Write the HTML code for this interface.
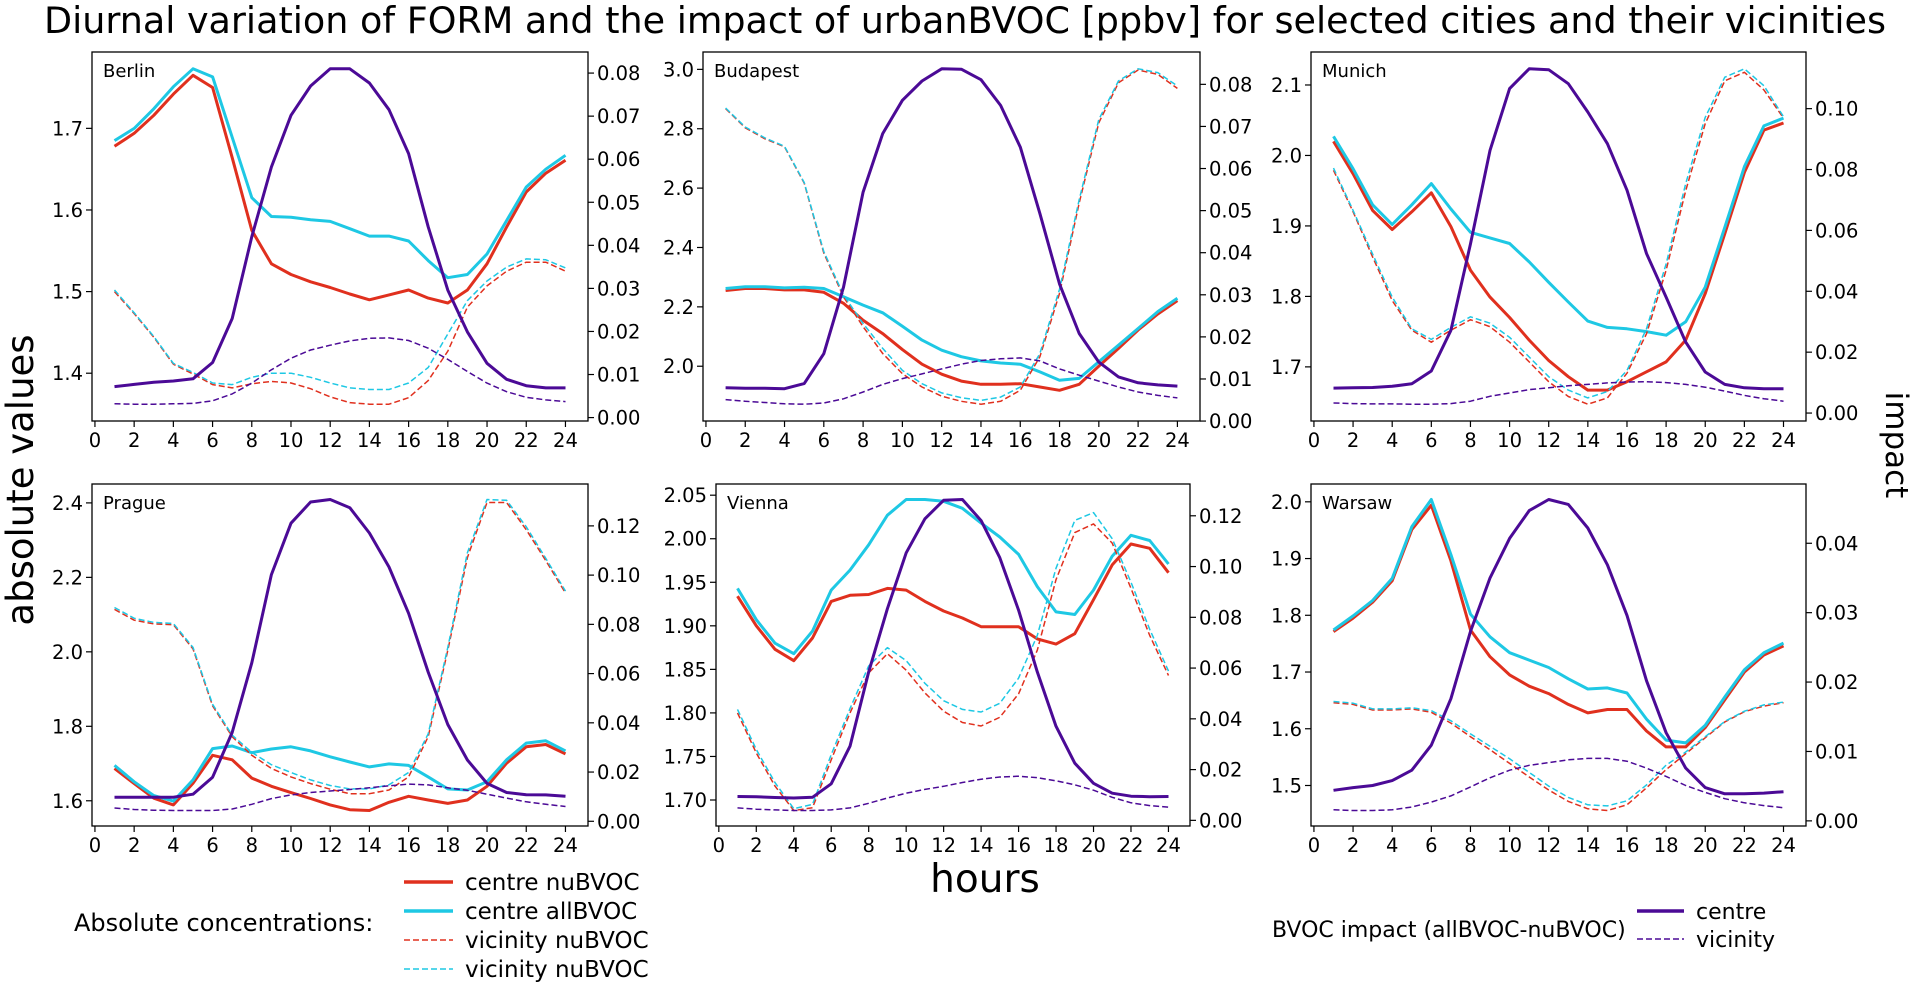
<!DOCTYPE html>
<html><head><meta charset="utf-8"><style>
html,body{margin:0;padding:0;background:#fff}
svg{display:block;font-family:"DejaVu Sans","Liberation Sans",sans-serif}
</style></head><body>
<svg id="chart" width="1930" height="984" viewBox="0 0 1930 984" xmlns="http://www.w3.org/2000/svg">
<text x="965" y="33" font-size="36.5" text-anchor="middle">Diurnal variation of FORM and the impact of urbanBVOC [ppbv] for selected cities and their vicinities</text>
<text transform="translate(33,480) rotate(-90)" font-size="37" text-anchor="middle">absolute values</text>
<text transform="translate(1886,445) rotate(90)" font-size="31" text-anchor="middle">impact</text>
<text x="985" y="892" font-size="39" text-anchor="middle">hours</text>
<g font-size="23">
<text x="74" y="931" font-size="24">Absolute concentrations:</text>
<line x1="404" y1="882" x2="453" y2="882" stroke="#e0301e" stroke-width="3.5"/>
<text x="465" y="890">centre nuBVOC</text>
<line x1="404" y1="911" x2="453" y2="911" stroke="#1ec8e4" stroke-width="3.5"/>
<text x="465" y="919">centre allBVOC</text>
<line x1="404" y1="940" x2="453" y2="940" stroke="#e0301e" stroke-width="1.6" stroke-dasharray="6,3"/>
<text x="465" y="948">vicinity nuBVOC</text>
<line x1="404" y1="969" x2="453" y2="969" stroke="#1ec8e4" stroke-width="1.6" stroke-dasharray="6,3"/>
<text x="465" y="977">vicinity nuBVOC</text>
</g>
<g font-size="22">
<text x="1272" y="937">BVOC impact (allBVOC-nuBVOC)</text>
<line x1="1637" y1="911" x2="1684" y2="911" stroke="#4b0a96" stroke-width="3.5"/>
<text x="1696" y="919">centre</text>
<line x1="1637" y1="939" x2="1684" y2="939" stroke="#4b0a96" stroke-width="1.6" stroke-dasharray="6,3"/>
<text x="1696" y="947">vicinity</text>
</g>
</svg>
<script>
const hours=[1,2,3,4,5,6,7,8,9,10,11,12,13,14,15,16,17,18,19,20,21,22,23,24];
const xTickLabels=["0","2","4","6","8","10","12","14","16","18","20","22","24"];

const berlinCentreNu=[1.678,1.694,1.716,1.742,1.765,1.750,1.664,1.575,1.534,1.521,1.512,1.505,1.497,1.490,1.496,1.502,1.492,1.486,1.502,1.534,1.579,1.622,1.645,1.661];
const berlinCentreAll=[1.685,1.700,1.724,1.751,1.773,1.763,1.689,1.615,1.592,1.591,1.588,1.586,1.577,1.568,1.568,1.562,1.538,1.517,1.521,1.546,1.587,1.628,1.650,1.667];
const berlinVicNu=[1.500,1.473,1.444,1.411,1.399,1.386,1.382,1.387,1.390,1.388,1.381,1.371,1.364,1.362,1.362,1.370,1.391,1.427,1.481,1.507,1.525,1.536,1.536,1.525];
const berlinVicAll=[1.502,1.474,1.445,1.412,1.401,1.388,1.386,1.395,1.400,1.400,1.395,1.388,1.382,1.380,1.380,1.388,1.407,1.448,1.489,1.513,1.530,1.540,1.539,1.529];
const berlinImpCentre=[.0072,.0077,.0082,.0085,.0090,.0128,.0230,.0420,.0582,.0702,.0770,.0810,.0810,.0777,.0715,.0613,.0443,.0296,.0199,.0126,.0089,.0074,.0069,.0069];
const berlinImpVic=[.0032,.0031,.0031,.0032,.0033,.0039,.0055,.0080,.0111,.0138,.0157,.0168,.0178,.0184,.0185,.0179,.0161,.0135,.0107,.0080,.0060,.0047,.0041,.0037];
const berlinLeftTicks=["1.4","1.5","1.6","1.7"];
const berlinRightTicks=["0.00","0.01","0.02","0.03","0.04","0.05","0.06","0.07","0.08"];

const budapestCentreNu=[2.255,2.262,2.262,2.257,2.257,2.249,2.212,2.155,2.110,2.056,2.007,1.973,1.950,1.939,1.939,1.941,1.930,1.919,1.939,2.000,2.060,2.122,2.176,2.221];
const budapestCentreAll=[2.262,2.268,2.268,2.264,2.266,2.262,2.234,2.206,2.180,2.135,2.088,2.054,2.032,2.018,2.011,2.007,1.981,1.953,1.959,2.015,2.071,2.127,2.184,2.229];
const budapestVicNu=[2.868,2.803,2.766,2.739,2.617,2.381,2.234,2.133,2.043,1.975,1.930,1.899,1.882,1.872,1.882,1.919,2.032,2.245,2.550,2.820,2.955,2.998,2.983,2.936];
const budapestVicAll=[2.870,2.806,2.769,2.741,2.619,2.386,2.240,2.144,2.060,1.986,1.941,1.910,1.894,1.885,1.896,1.930,2.043,2.259,2.561,2.831,2.961,3.002,2.989,2.944];
const budapestImpCentre=[.0079,.0078,.0078,.0077,.0089,.0160,.0318,.0544,.0683,.0762,.0808,.0837,.0836,.0811,.0750,.0651,.0493,.0326,.0208,.0140,.0105,.0091,.0086,.0083];
const budapestImpVic=[.0051,.0047,.0044,.0041,.0040,.0043,.0053,.0069,.0087,.0101,.0112,.0124,.0135,.0144,.0148,.0150,.0143,.0124,.0109,.0095,.0081,.0069,.0061,.0055];
const budapestLeftTicks=["2.0","2.2","2.4","2.6","2.8","3.0"];
const budapestRightTicks=["0.00","0.01","0.02","0.03","0.04","0.05","0.06","0.07","0.08"];

const munichCentreNu=[2.020,1.974,1.922,1.895,1.920,1.947,1.899,1.837,1.799,1.770,1.738,1.709,1.686,1.667,1.667,1.679,1.693,1.707,1.738,1.804,1.889,1.976,2.036,2.046];
const munichCentreAll=[2.027,1.981,1.930,1.902,1.930,1.960,1.924,1.891,1.883,1.875,1.849,1.820,1.792,1.765,1.756,1.754,1.750,1.745,1.764,1.813,1.898,1.984,2.042,2.053];
const munichVicNu=[1.979,1.920,1.856,1.794,1.752,1.735,1.752,1.767,1.757,1.735,1.707,1.679,1.658,1.647,1.656,1.691,1.747,1.837,1.950,2.045,2.106,2.118,2.093,2.053];
const munichVicAll=[1.982,1.922,1.860,1.799,1.754,1.739,1.756,1.771,1.762,1.742,1.714,1.686,1.667,1.656,1.665,1.695,1.754,1.846,1.960,2.054,2.111,2.123,2.099,2.055];
const munichImpCentre=[.0082,.0083,.0084,.0088,.0096,.0138,.0272,.0556,.0863,.1066,.1131,.1128,.1082,.0989,.0885,.0732,.0524,.0381,.0233,.0135,.0094,.0083,.0080,.0080];
const munichImpVic=[.0033,.0031,.0030,.0030,.0029,.0029,.0031,.0039,.0055,.0066,.0077,.0083,.0090,.0094,.0099,.0102,.0103,.0100,.0094,.0085,.0072,.0058,.0047,.0039];
const munichLeftTicks=["1.7","1.8","1.9","2.0","2.1"];
const munichRightTicks=["0.00","0.02","0.04","0.06","0.08","0.10"];

const pragueCentreNu=[1.687,1.646,1.607,1.589,1.647,1.722,1.710,1.661,1.639,1.622,1.606,1.589,1.576,1.574,1.596,1.612,1.602,1.593,1.602,1.639,1.701,1.745,1.751,1.726];
const pragueCentreAll=[1.695,1.651,1.614,1.599,1.656,1.740,1.747,1.729,1.739,1.745,1.734,1.718,1.704,1.691,1.699,1.695,1.664,1.632,1.629,1.651,1.710,1.755,1.761,1.734];
const pragueVicNu=[2.114,2.085,2.075,2.073,2.008,1.855,1.772,1.722,1.687,1.664,1.646,1.631,1.619,1.619,1.629,1.664,1.772,2.004,2.253,2.401,2.401,2.328,2.245,2.158];
const pragueVicAll=[2.119,2.090,2.079,2.076,2.012,1.859,1.776,1.730,1.697,1.676,1.656,1.641,1.632,1.632,1.643,1.676,1.780,2.012,2.266,2.409,2.407,2.336,2.251,2.163];
const pragueImpCentre=[.0098,.0098,.0098,.0098,.0110,.0179,.0361,.0644,.1002,.1211,.1297,.1307,.1274,.1171,.1033,.0845,.0606,.0393,.0249,.0154,.0117,.0108,.0107,.0102];
const pragueImpVic=[.0054,.0048,.0045,.0044,.0044,.0044,.0050,.0069,.0092,.0107,.0117,.0123,.0129,.0136,.0144,.0151,.0148,.0136,.0126,.0110,.0094,.0079,.0069,.0060];
const pragueLeftTicks=["1.6","1.8","2.0","2.2","2.4"];
const pragueRightTicks=["0.00","0.02","0.04","0.06","0.08","0.10","0.12"];

const viennaCentreNu=[1.934,1.900,1.873,1.860,1.886,1.928,1.935,1.936,1.943,1.941,1.928,1.917,1.909,1.899,1.899,1.899,1.885,1.879,1.891,1.930,1.970,1.994,1.989,1.961];
const viennaCentreAll=[1.943,1.907,1.880,1.868,1.894,1.941,1.964,1.993,2.027,2.045,2.045,2.043,2.035,2.018,2.002,1.982,1.945,1.916,1.913,1.941,1.980,2.004,1.998,1.971];
const viennaVicNu=[1.800,1.754,1.716,1.688,1.691,1.746,1.800,1.846,1.868,1.849,1.823,1.802,1.789,1.785,1.795,1.822,1.872,1.953,2.007,2.017,1.995,1.943,1.889,1.843];
const viennaVicAll=[1.804,1.758,1.720,1.690,1.695,1.752,1.805,1.854,1.875,1.860,1.834,1.814,1.804,1.801,1.811,1.840,1.889,1.966,2.021,2.030,2.000,1.950,1.896,1.848];
const viennaImpCentre=[.0094,.0093,.0090,.0088,.0091,.0144,.0292,.0585,.0834,.1054,.1188,.1261,.1264,.1181,.1035,.0828,.0585,.0371,.0225,.0146,.0107,.0095,.0093,.0094];
const viennaImpVic=[.0049,.0044,.0041,.0039,.0039,.0041,.0049,.0067,.0088,.0107,.0122,.0134,.0149,.0162,.0171,.0174,.0168,.0156,.0140,.0119,.0091,.0069,.0058,.0052];
const viennaLeftTicks=["1.70","1.75","1.80","1.85","1.90","1.95","2.00","2.05"];
const viennaRightTicks=["0.00","0.02","0.04","0.06","0.08","0.10","0.12"];

const warsawCentreNu=[1.771,1.795,1.823,1.861,1.951,1.994,1.896,1.774,1.727,1.695,1.675,1.662,1.643,1.628,1.634,1.634,1.596,1.568,1.568,1.602,1.651,1.700,1.730,1.746];
const warsawCentreAll=[1.774,1.799,1.826,1.865,1.956,2.004,1.907,1.802,1.762,1.734,1.721,1.708,1.688,1.670,1.672,1.663,1.617,1.580,1.575,1.606,1.656,1.704,1.734,1.751];
const warsawVicNu=[1.646,1.643,1.633,1.633,1.635,1.629,1.610,1.586,1.563,1.539,1.515,1.492,1.472,1.459,1.456,1.466,1.496,1.528,1.556,1.584,1.612,1.630,1.640,1.646];
const warsawVicAll=[1.648,1.645,1.635,1.635,1.637,1.632,1.614,1.591,1.569,1.547,1.523,1.499,1.479,1.466,1.464,1.473,1.501,1.536,1.559,1.586,1.613,1.631,1.642,1.647];
const warsawImpCentre=[.0044,.0048,.0051,.0058,.0073,.0109,.0176,.0273,.0350,.0407,.0447,.0463,.0456,.0422,.0369,.0296,.0202,.0127,.0076,.0048,.0039,.0039,.0040,.0042];
const warsawImpVic=[.0016,.0015,.0015,.0016,.0020,.0027,.0036,.0049,.0062,.0073,.0080,.0084,.0088,.0090,.0090,.0086,.0076,.0064,.0051,.0041,.0032,.0026,.0022,.0019];
const warsawLeftTicks=["1.5","1.6","1.7","1.8","1.9","2.0"];
const warsawRightTicks=["0.00","0.01","0.02","0.03","0.04"];

const panels=[
 {name:"Berlin",key:"berlin",l:92,r:588,t:52,b:421,s:[berlinCentreNu,berlinCentreAll,berlinVicNu,berlinVicAll],imp:[berlinImpCentre,berlinImpVic],lt:berlinLeftTicks,rt:berlinRightTicks},
 {name:"Budapest",key:"budapest",l:703,r:1200,t:52,b:421,s:[budapestCentreNu,budapestCentreAll,budapestVicNu,budapestVicAll],imp:[budapestImpCentre,budapestImpVic],lt:budapestLeftTicks,rt:budapestRightTicks},
 {name:"Munich",key:"munich",l:1311,r:1806,t:52,b:421,s:[munichCentreNu,munichCentreAll,munichVicNu,munichVicAll],imp:[munichImpCentre,munichImpVic],lt:munichLeftTicks,rt:munichRightTicks},
 {name:"Prague",key:"prague",l:92,r:588,t:484,b:826,s:[pragueCentreNu,pragueCentreAll,pragueVicNu,pragueVicAll],imp:[pragueImpCentre,pragueImpVic],lt:pragueLeftTicks,rt:pragueRightTicks},
 {name:"Vienna",key:"vienna",l:716,r:1190,t:484,b:826,s:[viennaCentreNu,viennaCentreAll,viennaVicNu,viennaVicAll],imp:[viennaImpCentre,viennaImpVic],lt:viennaLeftTicks,rt:viennaRightTicks},
 {name:"Warsaw",key:"warsaw",l:1311,r:1806,t:484,b:826,s:[warsawCentreNu,warsawCentreAll,warsawVicNu,warsawVicAll],imp:[warsawImpCentre,warsawImpVic],lt:warsawLeftTicks,rt:warsawRightTicks}
];
const RED="#e0301e",CYAN="#1ec8e4",PURPLE="#4b0a96";
const seriesStyle=[[RED,3,null,"centre-nu"],[CYAN,3,null,"centre-all"],[RED,1.5,"6,3","vicinity-nu"],[CYAN,1.5,"6,3","vicinity-all"]];
const impStyle=[[PURPLE,3,null,"impact-centre"],[PURPLE,1.5,"6,3","impact-vicinity"]];
const NS="http://www.w3.org/2000/svg";
const svg=document.getElementById("chart");
function mk(tag,attrs,parent){const e=document.createElementNS(NS,tag);for(const k in attrs)e.setAttribute(k,attrs[k]);parent.appendChild(e);return e;}
function domainOf(arrs){let mn=Infinity,mx=-Infinity;arrs.forEach(a=>a.forEach(v=>{if(v<mn)mn=v;if(v>mx)mx=v;}));const p=(mx-mn)*0.05;return [mn-p,mx+p];}
const TF=19.5;
panels.forEach(P=>{
  const g=mk("g",{},svg);
  
  
  const x0=hours[0]-(hours[23]-hours[0])*0.05,x1=hours[23]+(hours[23]-hours[0])*0.05;
  const xs=v=>P.l+(v-x0)/(x1-x0)*(P.r-P.l);
  const ld=domainOf(P.s),rd=domainOf(P.imp);
  const yl=v=>P.b-(v-ld[0])/(ld[1]-ld[0])*(P.b-P.t);
  const yr=v=>P.b-(v-rd[0])/(rd[1]-rd[0])*(P.b-P.t);
  xTickLabels.forEach(lab=>{
    const x=xs(parseFloat(lab));
    const tk=mk("line",{x1:x,y1:P.b,x2:x,y2:P.b+6,stroke:"#000","stroke-width":1.2},g);
    
    
    const t=mk("text",{x:x,y:P.b+26,"font-size":TF,"text-anchor":"middle"},g);
    t.textContent=lab;
    
    
  });
  P.lt.forEach(lab=>{
    const y=yl(parseFloat(lab));
    const tk=mk("line",{x1:P.l-6,y1:y,x2:P.l,y2:y,stroke:"#000","stroke-width":1.2},g);
    
    
    const t=mk("text",{x:P.l-9,y:y+7,"font-size":TF,"text-anchor":"end"},g);
    t.textContent=lab;
    
    
  });
  P.rt.forEach(lab=>{
    const y=yr(parseFloat(lab));
    const tk=mk("line",{x1:P.r,y1:y,x2:P.r+6,y2:y,stroke:"#000","stroke-width":1.2},g);
    
    
    const t=mk("text",{x:P.r+9,y:y+7,"font-size":TF,"text-anchor":"start"},g);
    t.textContent=lab;
    
    
  });
  P.s.forEach((arr,i)=>{
    const st=seriesStyle[i];
    const pts=arr.map((v,j)=>xs(hours[j]).toFixed(1)+","+yl(v).toFixed(1)).join(" ");
    const pl=mk("polyline",{points:pts,fill:"none",stroke:st[0],"stroke-width":st[1],"stroke-linejoin":"round"},g);
    if(st[2])pl.setAttribute("stroke-dasharray",st[2]);
    
    
  });
  P.imp.forEach((arr,i)=>{
    const st=impStyle[i];
    const pts=arr.map((v,j)=>xs(hours[j]).toFixed(1)+","+yr(v).toFixed(1)).join(" ");
    const pl=mk("polyline",{points:pts,fill:"none",stroke:st[0],"stroke-width":st[1],"stroke-linejoin":"round"},g);
    if(st[2])pl.setAttribute("stroke-dasharray",st[2]);
    
    
  });
  const fr=mk("rect",{x:P.l,y:P.t,width:P.r-P.l,height:P.b-P.t,fill:"none",stroke:"#000","stroke-width":1.3},g);
  
  
  const ct=mk("text",{x:P.l+11,y:P.t+25,"font-size":18},g);
  ct.textContent=P.name;
  
  
});
</script>
</body></html>
